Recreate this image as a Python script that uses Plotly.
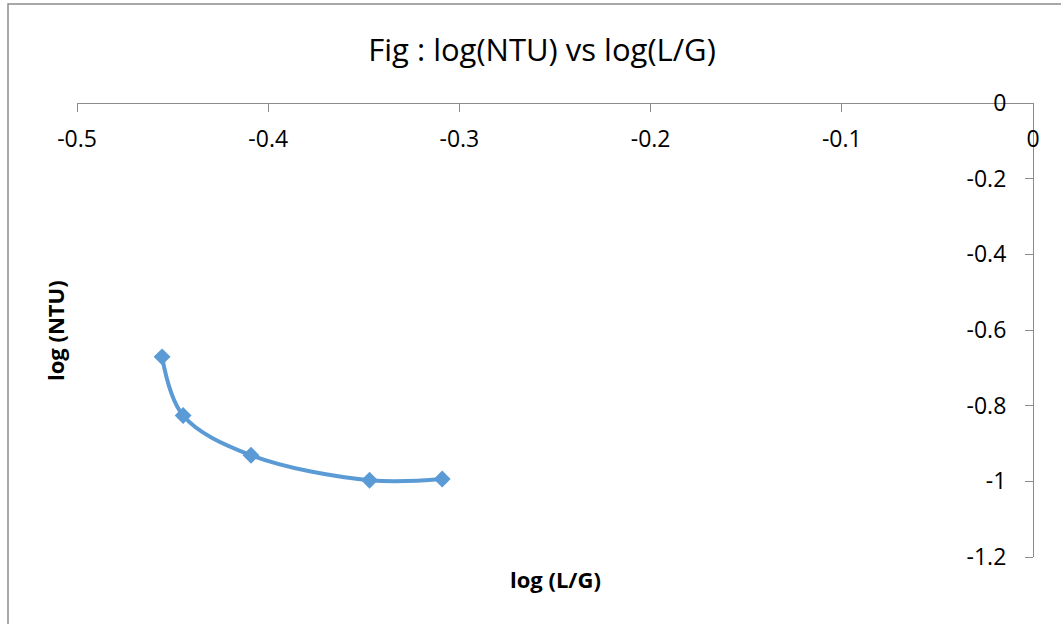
import plotly.graph_objects as go

# Data
log_lg = [-0.4555, -0.4445, -0.4090, -0.3470, -0.3090]
log_ntu = [-0.671, -0.826, -0.931, -0.997, -0.994]

x_ticks = [-0.5, -0.4, -0.3, -0.2, -0.1, 0]
x_tick_text = ["-0.5", "-0.4", "-0.3", "-0.2", "-0.1", "0"]
y_ticks = [0, -0.2, -0.4, -0.6, -0.8, -1.0, -1.2]
y_tick_text = ["0", "-0.2", "-0.4", "-0.6", "-0.8", "-1", "-1.2"]

FONT = "Open Sans"
AXIS_COLOR = "#8c8c8c"

fig = go.Figure()
fig.add_trace(go.Scatter(
    x=log_lg, y=log_ntu,
    mode="lines+markers",
    line=dict(color="#5B9BD5", width=4, shape="spline", smoothing=1.0),
    marker=dict(symbol="diamond", size=13, color="#5B9BD5"),
    showlegend=False,
))

fig.update_layout(
    width=1061, height=624,
    margin=dict(l=77, r=28, t=103, b=67, autoexpand=False),
    paper_bgcolor="white", plot_bgcolor="white",
    font=dict(family=FONT, color="#000000"),
    title=dict(text="Fig : log(NTU) vs log(L/G)", x=542/1061, xref="container",
               y=1 - 50/624, yref="container", xanchor="center", yanchor="middle",
               font=dict(family=FONT, size=31, color="#000000")),
    xaxis=dict(range=[-0.5, 0], tickvals=x_ticks, ticktext=x_tick_text,
               anchor="free", position=1, side="bottom", automargin=False,
               showline=True, linecolor=AXIS_COLOR, linewidth=1.2,
               ticks="outside", ticklen=8, tickcolor=AXIS_COLOR, tickwidth=1.2,
               ticklabelstandoff=7,
               showgrid=False, zeroline=False,
               tickfont=dict(family=FONT, size=23, color="#000000")),
    yaxis=dict(range=[-1.2, 0], tickvals=y_ticks, ticktext=y_tick_text,
               anchor="free", position=1, side="left", automargin=False,
               showline=True, linecolor=AXIS_COLOR, linewidth=1.2,
               ticks="outside", ticklen=8, tickcolor=AXIS_COLOR, tickwidth=1.2,
               ticklabelstandoff=14,
               showgrid=False, zeroline=False,
               tickfont=dict(family=FONT, size=23, color="#000000")),
    annotations=[
        dict(text="<b>log (L/G)</b>", xref="paper", yref="paper",
             x=(555 - 77) / 956, y=-(579 - 557) / 454, xanchor="center", yanchor="middle",
             showarrow=False, font=dict(family=FONT, size=22, color="#000000")),
        dict(text="<b>log (NTU)</b>", xref="paper", yref="paper",
             x=(55 - 77) / 956, y=1 - (331 - 103) / 454, xanchor="center", yanchor="middle",
             textangle=-90, showarrow=False, font=dict(family=FONT, size=22, color="#000000")),
    ],
    shapes=[
        dict(type="rect", xref="paper", yref="paper",
             x0=(8 - 77) / 956, x1=(1080 - 77) / 956,
             y0=-(640 - 557) / 454, y1=1 + (103 - 4) / 454,
             line=dict(color="#8c8c8c", width=1.5), fillcolor="rgba(0,0,0,0)", layer="below"),
    ],
)

fig.write_html(
    "out.html",
    config={"displayModeBar": False},
    post_script="document.body.style.margin='0';document.body.style.overflow='hidden';",
)
